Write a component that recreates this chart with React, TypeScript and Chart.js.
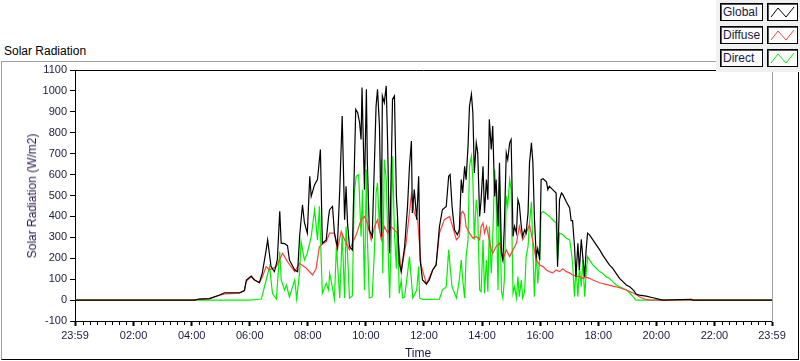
import { useEffect, useRef } from 'react';
import { Chart, registerables } from 'chart.js';
Chart.register(...registerables);

// [minutes since midnight, W/m2]
const GLOBAL: [number, number][] = [
  [-1, 0], [246, 0], [256, 5], [277, 7], [298, 24], [308, 35], [339, 35], [349, 45], [353, 96], [363, 115], [370, 96], [380, 83],
  [386, 130], [394, 240], [397, 288], [404, 160], [411, 136], [417, 192], [422, 424], [425, 272], [432, 270], [438, 260], [442, 192],
  [453, 144], [459, 136], [463, 304], [469, 456], [473, 370], [479, 320], [484, 592], [487, 496], [494, 552], [500, 576], [506, 720],
  [510, 272], [518, 288], [523, 400], [525, 432], [531, 448], [535, 320], [541, 256], [546, 528], [551, 880], [556, 384], [559, 544],
  [562, 368], [566, 256], [572, 240], [579, 912], [583, 896], [587, 848], [590, 768], [592, 1016], [597, 528], [601, 1008], [603, 656],
  [607, 336], [613, 304], [618, 688], [621, 928], [624, 1008], [628, 832], [632, 304], [634, 976], [638, 944], [642, 1024], [645, 736],
  [649, 224], [652, 576], [655, 960], [659, 976], [663, 496], [665, 416], [669, 176], [673, 136], [680, 256], [686, 448], [690, 640],
  [694, 760], [696, 416], [700, 528], [705, 384], [709, 592], [712, 192], [717, 96], [725, 77], [731, 96], [738, 144], [745, 168],
  [752, 352], [758, 432], [766, 448], [771, 592], [774, 600], [778, 448], [783, 336], [789, 312], [793, 336], [797, 576], [800, 512],
  [804, 640], [807, 576], [811, 736], [814, 928], [818, 984], [821, 896], [824, 608], [828, 752], [831, 704], [835, 400], [838, 480],
  [842, 640], [845, 416], [849, 576], [852, 480], [855, 864], [859, 720], [862, 832], [866, 496], [869, 576], [873, 352], [876, 656],
  [880, 224], [883, 192], [886, 352], [890, 704], [893, 672], [897, 752], [900, 768], [904, 304], [907, 352], [911, 320], [914, 480],
  [917, 456], [921, 352], [924, 304], [928, 336], [931, 320], [935, 416], [938, 656], [942, 752], [945, 656], [948, 400], [952, 208],
  [955, 246], [959, 192], [962, 576], [966, 580], [973, 565], [976, 528], [979, 544], [986, 528], [993, 512], [996, 160], [1000, 480],
  [1004, 512], [1007, 504], [1014, 470], [1021, 440], [1024, 380], [1027, 380], [1031, 256], [1034, 112], [1038, 272], [1041, 144],
  [1045, 290], [1048, 208], [1052, 112], [1055, 240], [1058, 320], [1062, 312], [1069, 288], [1076, 264], [1083, 240], [1089, 216],
  [1096, 192], [1103, 168], [1110, 152], [1117, 128], [1124, 104], [1131, 88], [1138, 72], [1145, 64], [1151, 51], [1155, 40],
  [1158, 29], [1165, 24], [1179, 19], [1193, 11], [1207, 3], [1213, 0], [1273, 4], [1275, 0], [1439, 0],
];

const DIFFUSE: [number, number][] = [
  [-1, 0], [246, 0], [256, 5], [277, 7], [298, 24], [308, 30], [339, 33], [349, 45], [353, 90], [363, 112], [370, 96], [380, 83],
  [386, 110], [394, 160], [401, 144], [415, 160], [428, 224], [438, 184], [453, 136], [463, 176], [477, 152], [490, 120], [497, 150],
  [504, 256], [518, 280], [525, 320], [535, 320], [541, 240], [549, 328], [556, 288], [566, 240], [580, 312], [590, 384], [597, 400],
  [603, 368], [611, 288], [618, 352], [624, 384], [632, 288], [638, 352], [645, 320], [652, 352], [659, 336], [665, 320], [673, 136],
  [683, 272], [694, 504], [700, 416], [707, 384], [714, 168], [725, 77], [738, 144], [745, 168], [752, 320], [762, 384], [773, 400],
  [779, 352], [787, 288], [793, 304], [797, 416], [800, 424], [804, 408], [807, 352], [814, 320], [821, 296], [828, 304], [835, 288],
  [838, 352], [842, 368], [845, 320], [849, 352], [855, 288], [859, 240], [862, 224], [869, 256], [876, 272], [880, 240], [883, 192],
  [890, 240], [897, 208], [904, 240], [911, 272], [917, 352], [924, 288], [931, 320], [938, 360], [945, 280], [952, 192], [959, 168],
  [966, 160], [973, 144], [979, 136], [986, 130], [993, 144], [1000, 136], [1007, 150], [1014, 136], [1021, 130], [1027, 120],
  [1034, 115], [1041, 112], [1048, 104], [1055, 110], [1062, 104], [1069, 96], [1083, 83], [1096, 75], [1110, 67], [1124, 59],
  [1138, 48], [1151, 35], [1158, 27], [1165, 16], [1176, 5], [1186, 0], [1439, 0],
];

const DIRECT: [number, number][] = [
  [-1, 0], [360, 0], [384, 5], [394, 96], [401, 160], [407, 32], [415, 5], [422, 232], [425, 96], [432, 48], [436, 72], [442, 15],
  [453, 96], [457, 5], [463, 130], [466, 280], [473, 192], [479, 224], [487, 304], [494, 432], [500, 288], [504, 448], [510, 32],
  [518, 80], [523, 48], [525, 128], [528, 96], [535, 5], [539, 256], [546, 10], [551, 320], [556, 10], [559, 352], [562, 224], [566, 10],
  [572, 20], [576, 512], [580, 592], [585, 600], [590, 304], [593, 528], [597, 48], [601, 624], [603, 304], [607, 10], [613, 15],
  [618, 256], [621, 512], [624, 560], [628, 336], [632, 672], [635, 128], [638, 672], [642, 576], [645, 320], [649, 10], [652, 256],
  [655, 688], [659, 320], [663, 150], [665, 384], [669, 32], [673, 96], [676, 10], [680, 15], [686, 128], [690, 208], [694, 96],
  [697, 10], [705, 48], [709, 160], [711, 10], [717, 3], [752, 5], [758, 48], [766, 64], [771, 240], [774, 160], [778, 64], [787, 10],
  [793, 96], [797, 192], [800, 96], [804, 10], [807, 208], [811, 288], [814, 640], [818, 688], [821, 576], [824, 288], [828, 480],
  [831, 416], [835, 48], [838, 40], [842, 288], [845, 32], [849, 192], [852, 40], [855, 352], [859, 128], [862, 288], [866, 624],
  [869, 496], [873, 48], [876, 560], [880, 40], [883, 10], [886, 96], [890, 496], [893, 448], [897, 576], [900, 528], [904, 32],
  [907, 64], [911, 10], [914, 112], [917, 16], [921, 96], [924, 10], [928, 40], [931, 208], [935, 256], [938, 368], [942, 470],
  [945, 240], [948, 16], [952, 240], [955, 80], [959, 192], [962, 416], [966, 424], [973, 412], [979, 400], [986, 384], [993, 368],
  [996, 192], [1000, 320], [1007, 312], [1014, 296], [1021, 288], [1024, 240], [1027, 176], [1031, 16], [1034, 160], [1038, 16],
  [1041, 160], [1045, 64], [1048, 192], [1052, 16], [1055, 128], [1058, 208], [1062, 192], [1069, 168], [1076, 152], [1083, 136],
  [1089, 128], [1096, 112], [1103, 104], [1110, 88], [1117, 72], [1124, 64], [1131, 56], [1138, 48], [1145, 35], [1151, 19],
  [1158, 0], [1439, 0],
];

const SERIES_NAMES = ['Global', 'Diffuse', 'Direct'];
const SERIES_COLORS = ['#000000', '#ff4040', '#00f000'];
const X_TICKS = [-1, 120, 240, 360, 480, 600, 720, 840, 960, 1080, 1200, 1320, 1439];
const X_MINOR_STEP = 15;
const Y_MIN = -100;
const Y_MAX = 1100;
const Y_STEP = 100;

const FONT = '"Liberation Sans", Arial, sans-serif';
const TEXT_COLOR = '#1a1a40';

function fmt(m: number): string {
  const mm = ((Math.round(m) % 1440) + 1440) % 1440;
  return String(Math.floor(mm / 60)).padStart(2, '0') + ':' + String(mm % 60).padStart(2, '0');
}

const framePlugin = {
  id: 'lvframe',
  afterDraw(chart: any) {
    const { ctx, chartArea } = chart;
    const xs = chart.scales.x;
    ctx.save();
    ctx.lineWidth = 1;
    ctx.strokeStyle = '#000';
    ctx.beginPath();
    ctx.moveTo(chartArea.left, Math.floor(chartArea.top) + 0.5);
    ctx.lineTo(chartArea.right, Math.floor(chartArea.top) + 0.5);
    ctx.stroke();
    ctx.strokeStyle = '#a0a0a0';
    ctx.beginPath();
    ctx.moveTo(Math.floor(chartArea.right) + 0.5, chartArea.top);
    ctx.lineTo(Math.floor(chartArea.right) + 0.5, chartArea.bottom + 1);
    ctx.stroke();
    ctx.strokeStyle = '#000';
    ctx.beginPath();
    for (let m = X_MINOR_STEP; m < 1439; m += X_MINOR_STEP) {
      if (m % 120 === 0) continue;
      const px = Math.round(xs.getPixelForValue(m)) + 0.5;
      ctx.moveTo(px, chartArea.bottom + 1);
      ctx.lineTo(px, chartArea.bottom + 4);
    }
    ctx.stroke();
    ctx.restore();
  },
};

function LegendItem({ name, color }: { name: string; color: string }) {
  return (
    <div style={{ display: 'flex', height: 18, marginBottom: 5 }}>
      <div
        style={{
          width: 43,
          height: 18,
          boxSizing: 'border-box',
          border: '1px solid #000',
          boxShadow: 'inset 1px 1px 0 #555',
          background: '#fbfbfb',
          fontFamily: FONT,
          fontSize: 12,
          lineHeight: '16px',
          paddingLeft: 2,
          color: TEXT_COLOR,
        }}
      >
        {name}
      </div>
      <div
        style={{
          width: 31,
          height: 18,
          marginLeft: 4,
          boxSizing: 'border-box',
          border: '1px solid #000',
          boxShadow: 'inset 1px 1px 0 #555',
          background: '#fff',
        }}
      >
        <svg width={29} height={16} style={{ display: 'block' }}>
          <polyline points="3,13 10,4 18,13 26,3" fill="none" stroke={color} strokeWidth={1} />
        </svg>
      </div>
    </div>
  );
}

export default function App() {
  const ref = useRef<HTMLCanvasElement | null>(null);

  useEffect(() => {
    if (!ref.current) return;
    Chart.defaults.font.family = FONT;
    const all = [GLOBAL, DIFFUSE, DIRECT];
    const chart = new Chart(ref.current, {
      type: 'line',
      data: {
        datasets: all.map((d, i) => ({
          label: SERIES_NAMES[i],
          data: d.map(([x, y]) => ({ x, y })),
          borderColor: SERIES_COLORS[i],
          backgroundColor: SERIES_COLORS[i],
          borderWidth: 1.2,
          pointRadius: 0,
          tension: 0,
          fill: false,
        })),
      },
      options: {
        animation: false,
        responsive: false,
        maintainAspectRatio: false,
        layout: { padding: { left: 0, top: 70, right: 28, bottom: 0 } },
        plugins: { legend: { display: false }, tooltip: { enabled: false }, title: { display: false } },
        scales: {
          x: {
            type: 'linear',
            min: -1,
            max: 1439,
            afterBuildTicks: (s: any) => {
              s.ticks = X_TICKS.map((v) => ({ value: v }));
            },
            afterFit: (s: any) => {
              s.height = 40;
            },
            ticks: {
              autoSkip: false,
              maxRotation: 0,
              minRotation: 0,
              padding: 3,
              color: TEXT_COLOR,
              font: { size: 11, family: FONT },
              callback: (v: any) => fmt(Number(v)),
            },
            grid: { drawOnChartArea: false, drawTicks: true, tickLength: 5, tickWidth: 2, tickColor: '#000' },
            border: { display: true, color: '#000', width: 1 },
          },
          y: {
            min: Y_MIN,
            max: Y_MAX,
            afterFit: (s: any) => {
              s.width = 75;
            },
            ticks: {
              stepSize: Y_STEP,
              padding: 3,
              color: TEXT_COLOR,
              font: { size: 11, family: FONT },
              callback: (v: any) => String(Math.round(Number(v))),
            },
            grid: { drawOnChartArea: false, drawTicks: true, tickLength: 5, tickWidth: 1, tickColor: '#000' },
            border: { display: true, color: '#000', width: 1 },
          },
        },
      },
      plugins: [framePlugin],
    } as any);
    return () => chart.destroy();
  }, []);

  return (
    <div style={{ position: 'absolute', left: 0, top: 0, width: 800, height: 361, background: '#fff', overflow: 'hidden' }}>
      <div
        style={{
          position: 'absolute',
          left: 1,
          top: 61,
          width: 798,
          height: 299,
          boxSizing: 'border-box',
          borderTop: '1px solid #a0a0a0',
          borderLeft: '1px solid #a0a0a0',
          borderBottom: '1px solid #000',
          borderRight: '1px solid #000',
        }}
      />
      <div
        style={{
          position: 'absolute',
          left: 4,
          top: 44,
          fontFamily: FONT,
          fontSize: 12,
          lineHeight: '14px',
          color: '#000',
          whiteSpace: 'nowrap',
        }}
      >
        Solar Radiation
      </div>
      <canvas ref={ref} width={800} height={361} style={{ position: 'absolute', left: 0, top: 0, width: 800, height: 361 }} />
      <div
        style={{
          position: 'absolute',
          left: 32,
          top: 196,
          transform: 'translate(-50%, -50%) rotate(-90deg)',
          fontFamily: FONT,
          fontSize: 12,
          color: '#2b1850',
          whiteSpace: 'nowrap',
        }}
      >
        Solar Radiation (W/m2)
      </div>
      <div
        style={{
          position: 'absolute',
          left: 418,
          top: 346,
          transform: 'translateX(-50%)',
          fontFamily: FONT,
          fontSize: 12,
          lineHeight: '14px',
          color: TEXT_COLOR,
          whiteSpace: 'nowrap',
        }}
      >
        Time
      </div>
      <div style={{ position: 'absolute', left: 716, top: 0, width: 84, height: 72, background: '#f0f0f0' }}>
        <div style={{ position: 'absolute', left: 4, top: 3 }}>
          {SERIES_NAMES.map((n, i) => (
            <LegendItem key={n} name={n} color={SERIES_COLORS[i]} />
          ))}
        </div>
      </div>
    </div>
  );
}
